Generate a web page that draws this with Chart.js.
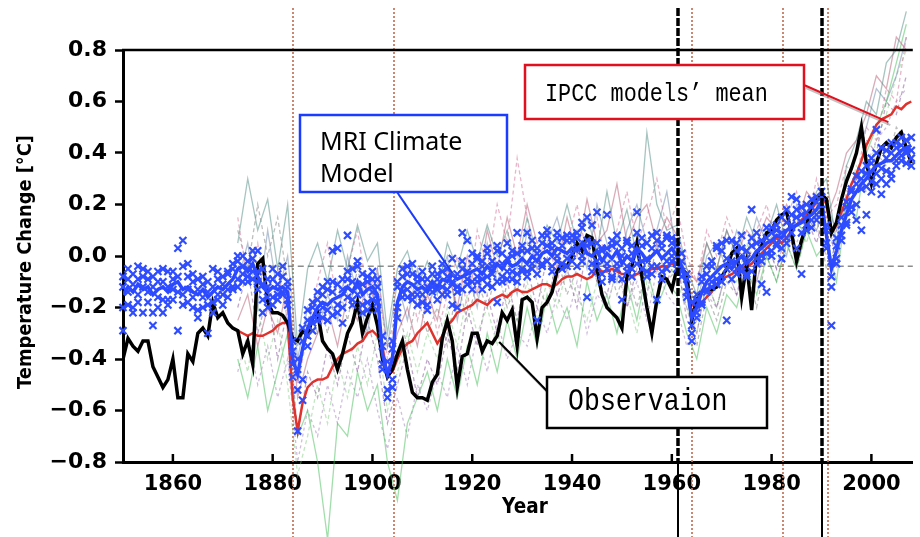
<!DOCTYPE html>
<html lang="en">
<head>
<meta charset="UTF-8">
<title>Temperature Change 1850-2008</title>
<script src="https://cdn.jsdelivr.net/npm/chart.js"></script>
<style>
  html, body { margin: 0; padding: 0; background: #fff; }
  canvas { display: block; }
</style>
</head>
<body>
<canvas id="tempChart" width="920" height="537"></canvas>
<script>
// annual global temperature anomalies, one value per year from firstYear
var firstYear = 1850;

var observation = [
  -0.40, -0.32, -0.35, -0.37, -0.33, -0.33, -0.43, -0.47, -0.51, -0.48,
  -0.40, -0.55, -0.55, -0.38, -0.41, -0.30, -0.28, -0.31, -0.18, -0.24,
  -0.22, -0.26, -0.28, -0.29, -0.38, -0.33, -0.42, -0.03, -0.01, -0.18,
  -0.22, -0.22, -0.23, -0.26, -0.32, -0.33, -0.29, -0.31, -0.24, -0.22,
  -0.33, -0.36, -0.38, -0.44, -0.38, -0.30, -0.26, -0.18, -0.30, -0.24,
  -0.19, -0.27, -0.40, -0.47, -0.44, -0.38, -0.33, -0.44, -0.53, -0.55,
  -0.55, -0.56, -0.49, -0.46, -0.32, -0.25, -0.33, -0.51, -0.39, -0.38,
  -0.30, -0.30, -0.37, -0.33, -0.34, -0.31, -0.22, -0.25, -0.21, -0.35,
  -0.17, -0.16, -0.18, -0.32, -0.20, -0.18, -0.14, -0.06, -0.03, -0.04,
   0.00,  0.05,  0.02,  0.08,  0.07, -0.05, -0.15, -0.20, -0.22, -0.24,
  -0.28, -0.08, -0.04,  0.05, -0.08, -0.20, -0.30, -0.17, -0.08, -0.09,
  -0.13, -0.05, -0.05, -0.07, -0.25, -0.17, -0.14, -0.13, -0.13, -0.12,
  -0.08, -0.05,  0.01,  0.03, -0.16, -0.03, -0.21,  0.01,  0.04,  0.09,
   0.10,  0.14,  0.16,  0.17,  0.09, -0.02,  0.06,  0.12,  0.20,  0.23,
   0.24,  0.22,  0.09,  0.13,  0.22,  0.29,  0.34,  0.40,  0.50,  0.36,
   0.28,  0.36,  0.42,  0.44,  0.42,  0.46,  0.48,  0.42,  0.36
];

// MRI model: ensemble mean and four members
var mriMean = [
  -0.15, -0.12, -0.14, -0.11, -0.13, -0.12, -0.15, -0.13, -0.12, -0.14,
  -0.11, -0.10, -0.13, -0.12, -0.14, -0.15, -0.13, -0.16, -0.14, -0.12,
  -0.13, -0.11, -0.09, -0.05, -0.04, -0.06, -0.03, -0.08, -0.12, -0.14,
  -0.12, -0.13, -0.12, -0.14, -0.40, -0.46, -0.36, -0.28, -0.24, -0.20,
  -0.18, -0.19, -0.17, -0.16, -0.15, -0.12, -0.14, -0.10, -0.15, -0.13,
  -0.12, -0.15, -0.38, -0.46, -0.40, -0.18, -0.12, -0.10, -0.11, -0.13,
  -0.12, -0.14, -0.10, -0.12, -0.09, -0.10, -0.07, -0.09, -0.08, -0.07,
  -0.06, -0.05, -0.07, -0.04, -0.06, -0.03, -0.05, -0.02, -0.04, -0.03,
  -0.01, -0.03,  0.00, -0.02,  0.01,  0.02,  0.00,  0.03,  0.02,  0.01,
   0.03,  0.02,  0.05,  0.01,  0.00,  0.02, -0.02,  0.01, -0.01,  0.02,
  -0.03,  0.00, -0.02,  0.03,  0.01, -0.02,  0.00,  0.02, -0.01,  0.01,
   0.03,  0.00, -0.04, -0.12, -0.24, -0.20, -0.14, -0.10, -0.08, -0.06,
  -0.04, -0.03, -0.05, -0.02,  0.00, -0.03, -0.01,  0.02,  0.03,  0.05,
   0.06,  0.08,  0.07,  0.10,  0.11,  0.12,  0.13,  0.15,  0.16,  0.18,
   0.21,  0.08, -0.05,  0.02,  0.10,  0.16,  0.22,  0.25,  0.28,  0.30,
   0.33,  0.35,  0.36,  0.37,  0.37,  0.39,  0.41,  0.42,  0.43
];

var mriRun1 = [
  -0.29, -0.05, -0.20, -0.04, -0.08, -0.18, -0.22, -0.06, -0.10, -0.19,
  -0.06,  0.03, -0.04, -0.18, -0.10, -0.21, -0.08, -0.19, -0.05, -0.09,
  -0.08, -0.16, -0.05, -0.02,  0.00, -0.10,  0.02, -0.13, -0.05, -0.20,
  -0.05, -0.17, -0.08, -0.10, -0.33, -0.52, -0.28, -0.35, -0.18, -0.25,
  -0.12, -0.25, -0.10,  0.03, -0.20, -0.06, -0.19, -0.04, -0.22, -0.08,
  -0.06, -0.09, -0.31, -0.52, -0.36, -0.12, -0.05, -0.16, -0.07, -0.19,
  -0.06, -0.19, -0.04, -0.17, -0.03, -0.15, -0.01, -0.12, -0.13,  0.06,
   0.01, -0.10, -0.02,  0.03, -0.12,  0.02, -0.10,  0.05, -0.09,  0.09,
   0.04, -0.08,  0.06, -0.07,  0.05,  0.08, -0.04,  0.09, -0.03,  0.06,
   0.08, -0.04,  0.11,  0.15, -0.06,  0.17,  0.03, -0.05,  0.06, -0.03,
   0.03,  0.06, -0.08,  0.17, -0.05,  0.05,  0.08, -0.04,  0.05, -0.05,
   0.07,  0.04,  0.01, -0.07, -0.18, -0.15, -0.18, -0.04, -0.02,  0.04,
   0.05, -0.01,  0.06,  0.02,  0.08, -0.07,  0.04,  0.09, -0.02,  0.11,
   0.11,  0.05,  0.15,  0.18,  0.23,  0.15,  0.19,  0.20,  0.22,  0.14,
   0.25,  0.12, -0.02,  0.07,  0.15,  0.21,  0.26,  0.31,  0.33,  0.27,
   0.38,  0.28,  0.42,  0.33,  0.44,  0.35,  0.46,  0.40,  0.38
];

var mriRun2 = [
  -0.08, -0.19, -0.07, -0.15, -0.22, -0.09, -0.12, -0.20, -0.17, -0.06,
  -0.17, -0.29,  0.06, -0.08, -0.20, -0.09, -0.16, -0.30, -0.22, -0.17,
  -0.19, -0.07, -0.13, -0.09, -0.07, -0.02, -0.06,  0.02, -0.17, -0.09,
  -0.16, -0.07, -0.15, -0.19, -0.47, -0.40, -0.56, -0.21, -0.29, -0.14,
  -0.24, -0.13,  0.02, -0.22, -0.09,  0.08, -0.10, -0.15, -0.11, -0.18,
  -0.17, -0.21, -0.44, -0.41, -0.48, -0.24, -0.16, -0.04, -0.15, -0.08,
  -0.15, -0.09, -0.14, -0.07, -0.12, -0.05, -0.10, -0.20, -0.05, -0.11,
  -0.10, -0.01, -0.13, -0.08, -0.02, -0.18,  0.01, -0.06,  0.02, -0.07,
  -0.06,  0.02, -0.05,  0.03, -0.03, -0.02,  0.05, -0.02,  0.07, -0.04,
  -0.02,  0.07,  0.00, -0.16,  0.05, -0.04, -0.07,  0.16, -0.08,  0.08,
  -0.09, -0.06,  0.04, -0.03,  0.07, -0.08, -0.07,  0.09, -0.06,  0.07,
  -0.02, -0.05, -0.08, -0.16, -0.30, -0.24, -0.10, -0.13, -0.12, -0.09,
  -0.08, -0.25, -0.02, -0.07, -0.04,  0.02, -0.06, -0.03, -0.11,  0.01,
   0.02,  0.12,  0.03,  0.07,  0.16,  0.22,  0.09,  0.12,  0.11,  0.21,
   0.18,  0.03, -0.12, -0.03,  0.06,  0.12,  0.17,  0.14,  0.10,  0.35,
   0.25,  0.40,  0.30,  0.41,  0.32,  0.42,  0.37,  0.45,  0.41
];

var mriRun3 = [
  -0.20, -0.14, -0.22, -0.09, -0.12, -0.06, -0.27, -0.10, -0.05, -0.12,
  -0.13, -0.08, -0.15, -0.03, -0.16, -0.13, -0.20, -0.10, -0.12, -0.06,
  -0.11, -0.13, -0.03, -0.12, -0.04, -0.08, -0.01, -0.10, -0.22, -0.16,
  -0.09, -0.15, -0.04, -0.12, -0.42, -0.68, -0.33, -0.25, -0.20, -0.23,
  -0.15, -0.21, -0.14, -0.11, -0.26, -0.16, -0.05, -0.12, -0.07, -0.21,
  -0.09, -0.12, -0.35, -0.55, -0.33, -0.10, -0.08, -0.13, -0.03, -0.15,
  -0.18, -0.12, -0.07, -0.13, -0.06, -0.13, -0.19, -0.14, -0.02, -0.06,
  -0.03, -0.08, -0.04, -0.11, -0.07,  0.04, -0.08, -0.01, -0.06, -0.10,
   0.02,  0.09,  0.03, -0.25,  0.08,  0.04,  0.03,  0.07,  0.04, -0.01,
   0.06,  0.03,  0.13,  0.04,  0.12,  0.05,  0.02,  0.03,  0.04, -0.05,
  -0.17,  0.05,  0.01,  0.09,  0.04, -0.01,  0.03,  0.06,  0.03,  0.08,
   0.05,  0.06, -0.02, -0.09, -0.33, -0.17, -0.08, -0.14, -0.04,  0.03,
   0.02,  0.06, -0.09,  0.05,  0.03, -0.01,  0.07,  0.05,  0.06,  0.07,
   0.09,  0.04, -0.01,  0.13,  0.09,  0.18,  0.16,  0.10,  0.19,  0.23,
   0.23,  0.05, -0.27,  0.04,  0.12,  0.19,  0.25,  0.20,  0.30,  0.32,
   0.29,  0.49,  0.34,  0.28,  0.40,  0.44,  0.39,  0.36,  0.46
];

var mriRun4 = [
  -0.12, -0.09, -0.11, -0.18, -0.05, -0.14, -0.08, -0.16, -0.22, -0.17,
  -0.09, -0.14, -0.19, -0.13, -0.07, -0.24, -0.11, -0.14, -0.18, -0.15,
  -0.15, -0.06, -0.12,  0.00, -0.10, -0.05, -0.09, -0.06, -0.11, -0.12,
  -0.19, -0.11, -0.14, -0.17, -0.37, -0.44, -0.48, -0.31, -0.26, -0.17,
  -0.20, -0.10, -0.23, -0.19, -0.13, -0.09, -0.17, -0.02, -0.19, -0.10,
  -0.14, -0.18, -0.42, -0.44, -0.51, -0.20, -0.14, -0.07, -0.17, -0.10,
  -0.09, -0.21, -0.12, -0.09, -0.15, -0.08, -0.11, -0.07,  0.09, -0.09,
  -0.13,  0.00, -0.09,  0.01, -0.04, -0.10, -0.03, -0.09,  0.00,  0.01,
  -0.05, -0.06, -0.03,  0.01, -0.04,  0.10, -0.06,  0.00, -0.05,  0.08,
   0.01,  0.09, -0.02,  0.06, -0.03, -0.02, -0.10, -0.03, -0.09,  0.05,
   0.00, -0.04, -0.05,  0.01, -0.02, -0.06, -0.04, -0.17, -0.09, -0.02,
   0.00, -0.03, -0.06, -0.14, -0.27, -0.22, -0.19, -0.07, -0.10, -0.11,
  -0.10, -0.05, -0.03, -0.05, -0.06, -0.08,  0.18, -0.01,  0.00, -0.14,
   0.00,  0.10,  0.09,  0.05,  0.12,  0.03, -0.07,  0.17,  0.14,  0.16,
   0.16,  0.10, -0.08, -0.01,  0.08,  0.13,  0.19,  0.28,  0.26,  0.16,
   0.36,  0.32,  0.24,  0.38,  0.30,  0.37,  0.43,  0.41,  0.35
];

// IPCC multi-model mean, annual from ipccStart
var ipccStart = 1873;
var ipccMean = [
                                   -0.29, -0.30, -0.31, -0.30, -0.31, -0.31, -0.30,
  -0.29, -0.27, -0.26, -0.26, -0.55, -0.68, -0.57, -0.51, -0.49, -0.48,
  -0.48, -0.47, -0.43, -0.40, -0.38, -0.37, -0.36, -0.34, -0.33, -0.30,
  -0.29, -0.31, -0.36, -0.46, -0.45, -0.40, -0.36, -0.34, -0.33, -0.30,
  -0.28, -0.26, -0.30, -0.34, -0.31, -0.27, -0.25, -0.22, -0.21, -0.20,
  -0.19, -0.17, -0.18, -0.19, -0.17, -0.16, -0.15, -0.16, -0.14, -0.13,
  -0.14, -0.14, -0.13, -0.12, -0.11, -0.11, -0.12, -0.11, -0.09, -0.08,
  -0.08, -0.07, -0.08, -0.09, -0.08, -0.05, -0.06, -0.06, -0.05, -0.06,
  -0.07, -0.07, -0.08, -0.07, -0.06, -0.06, -0.05, -0.05, -0.04, -0.04,
  -0.03, -0.03, -0.04, -0.10, -0.19, -0.20, -0.18, -0.16, -0.14, -0.11,
  -0.09, -0.08, -0.07, -0.06, -0.05, -0.04, -0.03, -0.01,  0.01,  0.03,
   0.05,  0.07,  0.05,  0.07,  0.10,  0.12,  0.14,  0.16,  0.18,  0.21,
   0.24,  0.20,  0.09,  0.12,  0.17,  0.22,  0.28,  0.32,  0.37,  0.43,
   0.47,  0.51,  0.53,  0.54,  0.55,  0.58,  0.57,  0.59,  0.60
];

// individual IPCC models, every other year from ensStart
var ensStart = 1873;
var ensStep = 2;
var modelA = [
   0.05,  0.30,  0.10,  0.22, -0.05,  0.20, -0.35, -0.05,  0.05, -0.10,
   0.10, -0.05,  0.12, -0.02,  0.05, -0.30, -0.05,  0.02, -0.12, -0.02,
  -0.15,  0.05, -0.05,  0.10, -0.02,  0.12,  0.00,  0.10, -0.05,  0.15,
   0.00,  0.12,  0.05,  0.20,  0.05,  0.15,  0.02,  0.25,  0.05,  0.18,
   0.00,  0.48,  0.20,  0.10,  0.12, -0.05, -0.15,  0.05, -0.05,  0.10,
   0.00,  0.15,  0.05,  0.08,  0.20,  0.05,  0.12,  0.10,  0.25,  0.30,
   0.05,  0.35,  0.45,  0.60,  0.55,  0.75,  0.80,  0.95
];
var modelB = [
  -0.20, -0.05, -0.30, -0.15, -0.40, -0.20, -0.70, -0.45, -0.55, -0.35,
  -0.50, -0.30, -0.45, -0.25, -0.40, -0.65, -0.50, -0.35, -0.55, -0.40,
  -0.50, -0.30, -0.45, -0.20, -0.35, -0.15, -0.30, -0.10, -0.25, -0.05,
  -0.20,  0.00, -0.15, -0.05, -0.20,  0.05, -0.10, -0.15,  0.00, -0.20,
  -0.05, -0.15,  0.05, -0.10,  0.00, -0.25, -0.30, -0.10, -0.20, -0.05,
  -0.15,  0.00, -0.10,  0.05, -0.05,  0.10,  0.00,  0.15,  0.05,  0.20,
  -0.05,  0.25,  0.30,  0.45,  0.40,  0.60,  0.55,  0.70
];
var modelC = [
   0.15, -0.10,  0.05, -0.20, -0.05, -0.25, -0.50, -0.30, -0.10,  0.05,
  -0.20, -0.05,  0.10, -0.15, -0.05, -0.40, -0.20, -0.05, -0.25, -0.10,
  -0.30, -0.15,  0.00, -0.20,  0.10, -0.05,  0.20,  0.05,  0.38,  0.15,
  -0.05,  0.10, -0.10,  0.05,  0.20,  0.00,  0.15, -0.05,  0.10,  0.25,
   0.05,  0.15,  0.30,  0.10,  0.20,  0.00, -0.10,  0.10,  0.00,  0.15,
   0.05, -0.05,  0.10,  0.20,  0.05,  0.15,  0.25,  0.10,  0.30,  0.15,
   0.20,  0.35,  0.30,  0.50,  0.45,  0.65,  0.60,  0.85
];
var modelD = [
  -0.40, -0.55, -0.35, -0.60, -0.45, -0.30, -0.70, -0.60, -0.80, -1.10,
  -0.65, -0.70, -0.45, -0.60, -0.50, -0.80, -0.95, -0.65, -0.55, -0.45,
  -0.60, -0.40, -0.55, -0.35, -0.50, -0.30, -0.45, -0.25, -0.40, -0.20,
  -0.35, -0.15, -0.30, -0.20, -0.35, -0.10, -0.25, -0.15, -0.30, -0.10,
  -0.25, -0.05, -0.20, -0.10, -0.15, -0.30, -0.40, -0.20, -0.30, -0.15,
  -0.20, -0.05, -0.15,  0.00, -0.10,  0.05, -0.05,  0.10,  0.00,  0.05,
  -0.10,  0.20,  0.15,  0.40,  0.50,  0.60,  0.75,  0.90
];
var modelE = [
  -0.25, -0.15, -0.35, -0.20, -0.30, -0.10, -0.55, -0.40, -0.30, -0.20,
  -0.35, -0.15, -0.25, -0.10, -0.20, -0.45, -0.30, -0.20, -0.35, -0.15,
  -0.25, -0.05, -0.20,  0.00, -0.15,  0.10, -0.05,  0.15,  0.00,  0.20,
   0.05,  0.10, -0.05,  0.15,  0.00,  0.22,  0.05,  0.10,  0.28,  0.05,
   0.15,  0.20,  0.05,  0.15,  0.08, -0.05, -0.10,  0.05, -0.05,  0.10,
   0.00,  0.10,  0.05,  0.15,  0.10,  0.20,  0.12,  0.25,  0.20,  0.15,
   0.25,  0.40,  0.45,  0.55,  0.70,  0.65,  0.85,  0.80
];
var modelF = [
   0.10, -0.05,  0.20,  0.00,  0.15, -0.10, -0.45, -0.25, -0.15, -0.30,
  -0.10, -0.25, -0.05, -0.20, -0.10, -0.35, -0.20, -0.35, -0.15, -0.30,
  -0.20, -0.35, -0.10, -0.25, -0.10, -0.20, -0.05, -0.20, -0.10,  0.05,
  -0.10, -0.20,  0.00, -0.15, -0.05,  0.05, -0.10,  0.00, -0.15, -0.05,
  -0.20, -0.05,  0.05, -0.10, -0.05, -0.20, -0.35, -0.15, -0.25, -0.10,
  -0.15, -0.05, -0.20,  0.00, -0.10,  0.05, -0.05,  0.10,  0.15, -0.05,
   0.05,  0.15,  0.30,  0.25,  0.40,  0.35,  0.50,  0.45
];
var modelG = [
  -0.45, -0.30, -0.50, -0.35, -0.55, -0.40, -0.80, -0.60, -0.70, -0.50,
  -0.65, -0.45, -0.55, -0.40, -0.60, -0.75, -0.55, -0.70, -0.50, -0.60,
  -0.45, -0.55, -0.35, -0.50, -0.30, -0.45, -0.25, -0.40, -0.30, -0.35,
  -0.20, -0.30, -0.15, -0.25, -0.10, -0.30, -0.15, -0.20, -0.05, -0.20,
  -0.10, -0.25, -0.05, -0.15, -0.20, -0.35, -0.25, -0.15, -0.20, -0.05,
  -0.15,  0.00, -0.10,  0.05, -0.05,  0.10,  0.05,  0.15,  0.10,  0.00,
   0.10,  0.20,  0.30,  0.35,  0.45,  0.50,  0.60,  0.65
];
var modelH = [
  -0.10,  0.05, -0.20,  0.10, -0.15,  0.00, -0.40, -0.20, -0.30, -0.15,
  -0.25,  0.00, -0.15, -0.30, -0.05, -0.35, -0.10, -0.25, -0.05, -0.20,
  -0.10,  0.00, -0.25, -0.05, -0.20,  0.05, -0.10,  0.00, -0.15,  0.10,
  -0.05,  0.05,  0.15,  0.00,  0.10, -0.05,  0.20,  0.05, -0.10,  0.10,
   0.20,  0.05,  0.10,  0.25,  0.00, -0.10, -0.20,  0.00,  0.05, -0.05,
   0.10,  0.00,  0.15,  0.05,  0.10,  0.00,  0.20,  0.15,  0.10,  0.20,
   0.10,  0.30,  0.40,  0.50,  0.65,  0.60,  0.70,  0.85
];
var modelI = [
  -0.30, -0.45, -0.20, -0.40, -0.25, -0.50, -0.85, -0.70, -0.50, -0.65,
  -0.40, -0.55, -0.35, -0.50, -0.30, -0.60, -0.45, -0.30, -0.45, -0.30,
  -0.40, -0.20, -0.35, -0.15, -0.30, -0.20, -0.35, -0.15, -0.25, -0.10,
  -0.25, -0.10, -0.20, -0.05, -0.15, -0.25, -0.10, -0.20, -0.05, -0.15,
  -0.30, -0.10, -0.20,  0.00, -0.10, -0.20, -0.30, -0.10, -0.20, -0.05,
  -0.10,  0.05, -0.05,  0.10,  0.00,  0.10,  0.15,  0.05,  0.20,  0.10,
   0.05,  0.20,  0.35,  0.30,  0.45,  0.55,  0.70,  0.80
];

var xTicks = [1860, 1880, 1900, 1920, 1940, 1960, 1980, 2000];
var yTicks = [-0.8, -0.6, -0.4, -0.2, 0.0, 0.2, 0.4, 0.6, 0.8];

// volcanic eruptions (dotted) and the two reference years (dashed)
var eruptions = [1884.0, 1904.3, 1964.1, 1982.2, 1991.3];
var periodMarks = [1961.3, 1990.2];
var refLevel = -0.04;

function toPoints(start, step, values) {
  return values.map(function (v, i) { return { x: start + i * step, y: v }; });
}

function faint(values, color, dash) {
  return {
    data: toPoints(ensStart, ensStep, values),
    borderColor: color,
    borderWidth: 1.3,
    borderDash: dash || [],
    pointRadius: 0,
    clip: false
  };
}

function run(values) {
  return {
    data: toPoints(firstYear, 1, values),
    showLine: false,
    pointStyle: 'crossRot',
    pointRadius: 5,
    pointBorderWidth: 2.2,
    pointBorderColor: '#2f4dff',
    borderColor: '#2f4dff',
    clip: false
  };
}

// first dataset is painted last, so the markers sit on top
var datasets = [
  run(mriRun1), run(mriRun2), run(mriRun3), run(mriRun4),
  { data: toPoints(firstYear, 1, mriMean), borderColor: '#2a48ff', borderWidth: 3.5, pointRadius: 0 },
  { data: toPoints(firstYear, 1, observation), borderColor: '#000', borderWidth: 3.5, pointRadius: 0 },
  { data: toPoints(ipccStart, 1, ipccMean), borderColor: '#e0322c', borderWidth: 2.5, pointRadius: 0, clip: false },
  faint(modelA, 'rgba(80,140,130,0.5)'),
  faint(modelB, 'rgba(130,80,150,0.5)', [4, 3]),
  faint(modelC, 'rgba(210,110,150,0.5)', [4, 3]),
  faint(modelD, 'rgba(70,190,90,0.5)'),
  faint(modelE, 'rgba(170,70,100,0.45)'),
  faint(modelF, 'rgba(110,110,110,0.45)', [4, 3]),
  faint(modelG, 'rgba(150,110,180,0.45)', [3, 3]),
  faint(modelH, 'rgba(90,120,160,0.45)'),
  faint(modelI, 'rgba(120,200,120,0.45)', [4, 3])
];

function segment(ctx, x1, y1, x2, y2) {
  ctx.beginPath();
  ctx.moveTo(x1, y1);
  ctx.lineTo(x2, y2);
  ctx.stroke();
}

function callout(ctx, box, color, tip, from) {
  // pointer with a soft grey shadow, then the framed box
  ctx.setLineDash([]);
  ctx.strokeStyle = 'rgba(120,120,120,0.45)';
  ctx.lineWidth = 2;
  segment(ctx, from.x + 2, from.y + 3, tip.x + 2, tip.y + 3);
  ctx.strokeStyle = color;
  ctx.lineWidth = 2;
  segment(ctx, from.x, from.y, tip.x, tip.y);
  ctx.fillStyle = '#fff';
  ctx.fillRect(box.x, box.y, box.w, box.h);
  ctx.lineWidth = 2.5;
  ctx.strokeRect(box.x, box.y, box.w, box.h);
}

function monoText(ctx, text, x, y, size, squeeze) {
  ctx.save();
  ctx.translate(x, y);
  ctx.scale(squeeze, 1);
  ctx.font = size + 'px "Liberation Mono", monospace';
  ctx.fillStyle = '#000';
  ctx.textBaseline = 'alphabetic';
  ctx.textAlign = 'left';
  ctx.fillText(text, 0, 0);
  ctx.restore();
}

var overlay = {
  id: 'overlay',
  beforeDatasetsDraw: function (chart) {
    var ctx = chart.ctx, a = chart.chartArea;
    var xs = chart.scales.x, ys = chart.scales.y;
    ctx.save();
    ctx.strokeStyle = 'rgba(195,115,85,0.85)';
    ctx.lineWidth = 2;
    ctx.setLineDash([2, 2]);
    eruptions.forEach(function (yr) {
      var px = Math.round(xs.getPixelForValue(yr));
      segment(ctx, px, 8, px, chart.height);
    });
    ctx.strokeStyle = '#8c8c8c';
    ctx.lineWidth = 1.5;
    ctx.setLineDash([6, 4]);
    var py = ys.getPixelForValue(refLevel);
    segment(ctx, xs.getPixelForValue(ipccStart), py, a.right, py);
    ctx.restore();
  },
  afterDatasetsDraw: function (chart) {
    var ctx = chart.ctx, a = chart.chartArea;
    var xs = chart.scales.x, ys = chart.scales.y;
    ctx.save();

    // reference years
    ctx.strokeStyle = '#000';
    periodMarks.forEach(function (yr) {
      var px = Math.round(xs.getPixelForValue(yr));
      ctx.lineWidth = 3.5;
      ctx.setLineDash([8, 2]);
      segment(ctx, px, 8, px, a.bottom);
      ctx.lineWidth = 2;
      ctx.setLineDash([]);
      segment(ctx, px, a.bottom, px, chart.height);
    });

    // top frame and inward year ticks
    ctx.setLineDash([]);
    ctx.lineWidth = 2.5;
    segment(ctx, a.left - 1, a.top, a.right, a.top);
    xTicks.forEach(function (v) {
      var px = xs.getPixelForValue(v);
      segment(ctx, px, a.bottom, px, a.bottom - 8);
    });

    // axis titles
    ctx.fillStyle = '#000';
    ctx.font = 'bold 20px "DejaVu Sans"';
    ctx.textAlign = 'center';
    ctx.textBaseline = 'middle';
    ctx.save();
    ctx.translate(26, 262);
    ctx.rotate(-Math.PI / 2);
    ctx.scale(0.89, 1);
    ctx.fillText('Temperature Change [\u00b0C]', 0, 0);
    ctx.restore();
    ctx.save();
    ctx.translate(525, 508);
    ctx.scale(0.88, 1);
    ctx.font = 'bold 21px "DejaVu Sans"';
    ctx.fillText('Year', 0, 0);
    ctx.restore();

    // callouts
    var mriTip = { x: xs.getPixelForValue(1916.0), y: ys.getPixelForValue(-0.066) };
    callout(ctx, { x: 300, y: 115, w: 207, h: 77 }, '#1b3cff', mriTip, { x: 397, y: 192 });
    ctx.fillStyle = '#000';
    ctx.font = '25px "Noto Sans", sans-serif';
    ctx.textAlign = 'left';
    ctx.textBaseline = 'alphabetic';
    ctx.fillText('MRI Climate', 320, 150);
    ctx.fillText('Model', 320, 182);

    var ipccTip = { x: xs.getPixelForValue(2003.4), y: ys.getPixelForValue(0.52) };
    callout(ctx, { x: 525, y: 65, w: 279, h: 54 }, '#e0101e', ipccTip, { x: 804, y: 85 });
    monoText(ctx, 'IPCC models\u2019 mean', 545, 101, 26, 0.84);

    var obsTip = { x: xs.getPixelForValue(1925.4), y: ys.getPixelForValue(-0.334) };
    callout(ctx, { x: 547, y: 377, w: 220, h: 51 }, '#000', obsTip, { x: 547, y: 391 });
    monoText(ctx, 'Observaion', 568, 410, 32, 0.83);

    ctx.restore();
  }
};

var axisFont = { family: 'DejaVu Sans', weight: 'bold', size: 22 };

new Chart(document.getElementById('tempChart').getContext('2d'), {
  type: 'line',
  data: { datasets: datasets },
  options: {
    responsive: false,
    animation: false,
    devicePixelRatio: 1,
    layout: { padding: { top: 50, left: 0, right: 0, bottom: 0 } },
    elements: { line: { tension: 0 } },
    plugins: { legend: { display: false }, tooltip: { enabled: false } },
    scales: {
      x: {
        type: 'linear',
        min: 1850,
        max: 2008.3,
        afterBuildTicks: function (s) { s.ticks = xTicks.map(function (v) { return { value: v }; }); },
        afterFit: function (s) { s.height = 75; },
        grid: { drawOnChartArea: false, drawTicks: false },
        border: { color: '#000', width: 3 },
        ticks: {
          padding: 10,
          color: '#000',
          maxRotation: 0,
          autoSkip: false,
          font: { family: 'DejaVu Sans', weight: 'bold', size: 21 },
          callback: function (v) { return String(v); }
        }
      },
      y: {
        min: -0.8,
        max: 0.8,
        afterBuildTicks: function (s) { s.ticks = yTicks.map(function (v) { return { value: v }; }); },
        afterFit: function (s) { s.width = 123; },
        grid: { drawOnChartArea: false, tickLength: 8, tickWidth: 2.5, tickColor: '#000' },
        border: { color: '#000', width: 3 },
        ticks: {
          padding: 8,
          color: '#000',
          font: axisFont,
          callback: function (v) { return (v < 0 ? '\u2212' : '') + Math.abs(v).toFixed(1); }
        }
      }
    }
  },
  plugins: [overlay]
});
</script>
</body>
</html>
